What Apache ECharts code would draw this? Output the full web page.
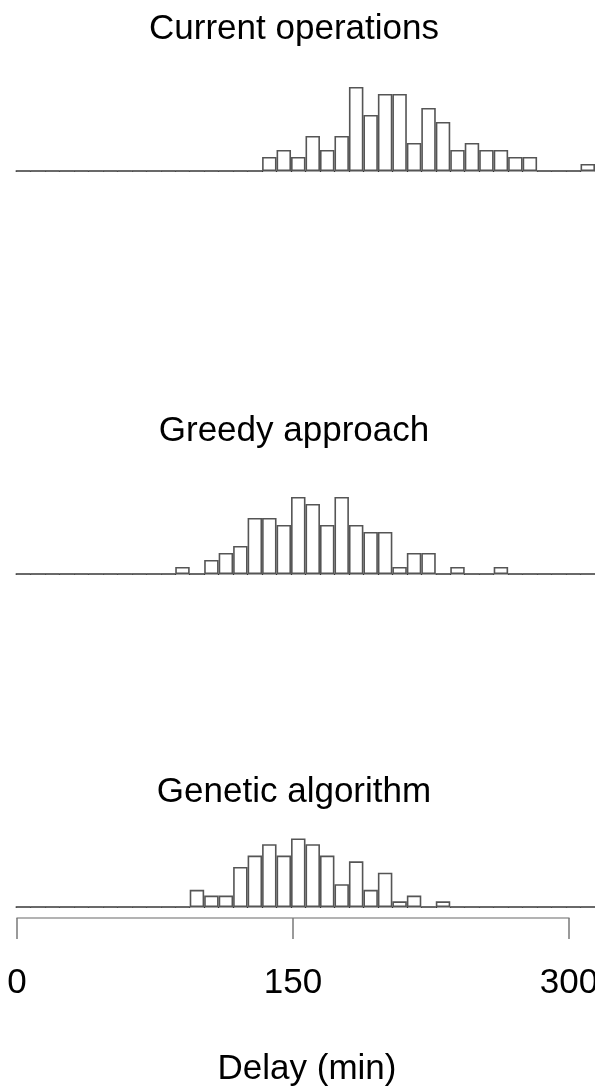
<!DOCTYPE html>
<html>
<head>
<meta charset="utf-8">
<title>Delay histograms</title>
<script src="https://cdn.jsdelivr.net/npm/echarts@6/dist/echarts.min.js"></script>
<style>
  html, body { margin: 0; padding: 0; background: #fff; }
  #echart { width: 595px; height: 1089px; }
</style>
</head>
<body>
<div id="echart"></div>
<script>
// bin start (min) for each histogram bar
var bins = ['0', '8', '16', '24', '32', '40', '48', '56', '64', '72',
            '80', '88', '96', '104', '112', '120', '128', '136', '144', '152',
            '160', '168', '176', '184', '192', '200', '208', '216', '224', '232',
            '240', '248', '256', '264', '272', '280', '288', '296', '304', '312'];

var currentOps = [0, 0, 0, 0, 0, 0, 0, 0, 0, 0,
                  0, 0, 0, 0, 0, 0, 0, 2, 3, 2,
                  5, 3, 5, 12, 8, 11, 11, 4, 9, 7,
                  3, 4, 3, 3, 2, 2, 0, 0, 0, 1];

var greedy = [0, 0, 0, 0, 0, 0, 0, 0, 0, 0,
              0, 1, 0, 2, 3, 4, 8, 8, 7, 11,
              10, 7, 11, 7, 6, 6, 1, 3, 3, 0,
              1, 0, 0, 1, 0, 0, 0, 0, 0, 0];

var genetic = [0, 0, 0, 0, 0, 0, 0, 0, 0, 0,
               0, 0, 3, 2, 2, 7, 9, 11, 9, 12,
               11, 9, 4, 8, 3, 6, 1, 2, 0, 1,
               0, 0, 0, 0, 0, 0, 0, 0, 0, 0];

var panelTitles = ['Current operations', 'Greedy approach', 'Genetic algorithm'];
var delayTicks = [0, 150, 300];
var axisTitle = 'Delay (min)';

var FONT = 'Liberation Sans, Arial, Helvetica, sans-serif';

function initChart() {
  if (typeof (echarts) === 'undefined') { console.log('echarts is undefined'); return; }
  var chart = echarts.init(document.getElementById('echart'), null, { renderer: 'canvas' });

  var panels = [currentOps, greedy, genetic];
  var grids = [
    { left: 16, right: 0, top: 73, height: 98, outerBoundsMode: 'none' },
    { left: 16, right: 0, top: 476, height: 98, outerBoundsMode: 'none' },
    { left: 16, right: 0, top: 827, height: 80, outerBoundsMode: 'none' },
    // delay scale
    { left: 17, right: 26, top: 917, height: 1, outerBoundsMode: 'none' }
  ];

  var xAxes = [], yAxes = [], series = [];
  panels.forEach(function (vals, i) {
    xAxes.push({
      type: 'category',
      gridIndex: i,
      data: bins,
      boundaryGap: true,
      axisLine: { show: true, lineStyle: { color: '#8a8a8a', width: 1.5 } },
      axisTick: { show: true, interval: 0, length: 1, lineStyle: { color: '#333', width: 1.2 } },
      axisLabel: { show: false },
      splitLine: { show: false }
    });
    yAxes.push({
      type: 'value', gridIndex: i, min: 0, max: 14, show: false
    });
    series.push({
      name: panelTitles[i],
      type: 'bar',
      xAxisIndex: i,
      yAxisIndex: i,
      data: vals,
      barCategoryGap: '0%',
      silent: true,
      itemStyle: { color: '#fff', borderColor: '#555', borderWidth: 1.6 }
    });
  });

  xAxes.push({
    type: 'value',
    gridIndex: 3,
    min: delayTicks[0],
    max: delayTicks[delayTicks.length - 1],
    interval: 150,
    position: 'bottom',
    axisLine: { show: true, lineStyle: { color: '#9a9a9a', width: 1.5 } },
    axisTick: { show: true, length: 21, lineStyle: { color: '#7a7a7a', width: 1.5 } },
    axisLabel: {
      show: true, margin: 48, color: '#000', fontSize: 35, fontFamily: FONT,
      showMinLabel: true, showMaxLabel: true, hideOverlap: false
    },
    splitLine: { show: false }
  });
  yAxes.push({ type: 'value', gridIndex: 3, show: false });

  var titleTops = [12, 414, 775];
  var titles = panelTitles.map(function (t, i) {
    return {
      text: t, left: 294, top: titleTops[i], textAlign: 'center', padding: 0,
      textStyle: { fontSize: 35, fontWeight: 'normal', color: '#000', fontFamily: FONT }
    };
  });
  titles.push({
    text: axisTitle, left: 307, top: 1052, textAlign: 'center', padding: 0,
    textStyle: { fontSize: 35, fontWeight: 'normal', color: '#000', fontFamily: FONT }
  });

  chart.setOption({
    backgroundColor: '#fff',
    animation: false,
    title: titles,
    grid: grids,
    xAxis: xAxes,
    yAxis: yAxes,
    series: series
  });
}

initChart();
</script>
</body>
</html>
